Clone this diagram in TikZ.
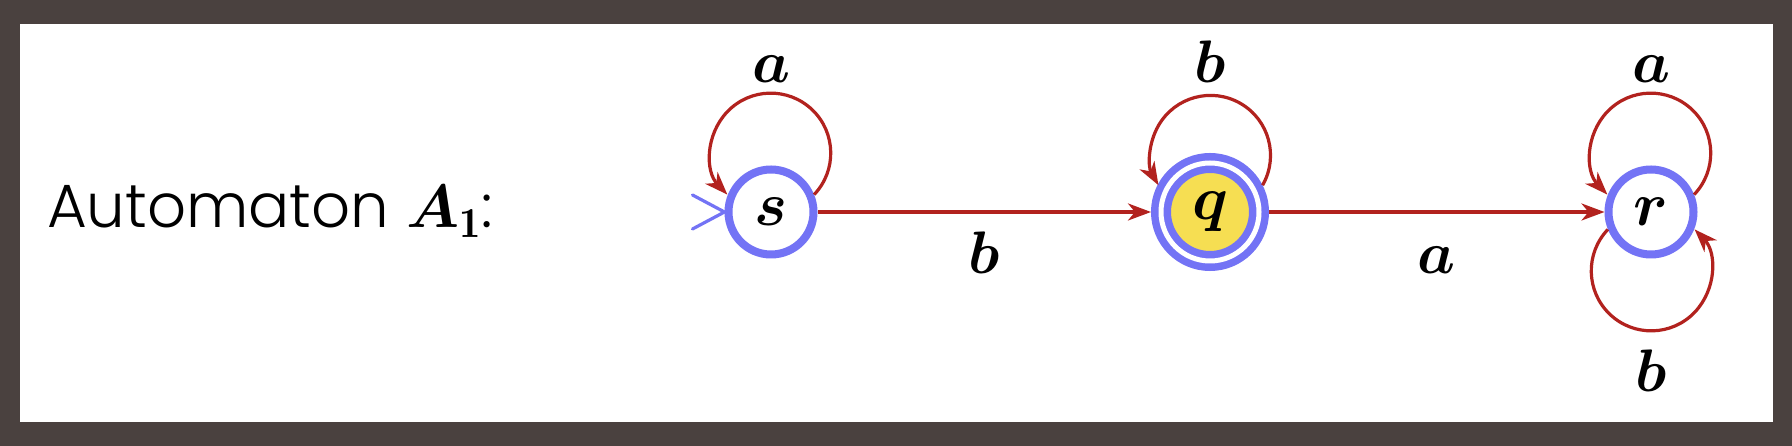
\RequirePackage{fix-cm}
\documentclass[tikz,border=0pt]{standalone}
\usepackage{amsmath}
\usepackage{fontspec}
\newfontfamily\gothic{Poppins}[UprightFont={* Light}]
\usetikzlibrary{arrows.meta,calc}
\definecolor{frame}{RGB}{74,65,63}
\definecolor{stateblue}{RGB}{115,115,245}
\definecolor{edgered}{RGB}{178,34,30}
\definecolor{acceptyellow}{RGB}{246,222,82}
\tikzset{
  state/.style={circle, draw=stateblue, line width=8pt, minimum size=85pt, inner sep=0pt,
    font=\fontsize{62}{68}\selectfont},
  accepting/.style={circle, draw=stateblue, line width=7.5pt, double=white, double distance=5pt,
    fill=acceptyellow, minimum size=98pt, inner sep=0pt, outer sep=10pt,
    font=\fontsize{62}{68}\selectfont},
  edge/.style={draw=edgered, line width=3.2pt, -{Stealth[length=23pt,width=17pt,inset=7pt]}},
  lbl/.style={inner sep=0pt, font=\fontsize{60}{66}\selectfont},
  entry/.style={draw=stateblue, line width=3.2pt, line cap=round}
}
\begin{document}
\begin{tikzpicture}[x=1pt,y=1pt]
  % frame
  \fill[frame] (0,0) rectangle (1792,446);
  \fill[white] (20,24) rectangle (1773,422);
  \useasboundingbox (0,0) rectangle (1792,446);

  % title
  \node[anchor=base west, inner sep=0pt, font=\gothic\fontsize{61}{68}\selectfont] (title)
    at (47,218) {Automaton $\boldsymbol{A}_{\mathbf{1}}$:};

  % states
  \node[state] (s) at (771,234) {$\boldsymbol{s}$};
  \node[accepting] (q) at (1210,234) {$\boldsymbol{q}$};
  \node[state] (r) at (1651,234) {$\boldsymbol{r}$};

  % initial marker
  \coordinate (e1) at ($(s.west)+(-32,17)$);
  \coordinate (e2) at ($(s.west)+(-32,-17)$);
  \draw[entry] (e1) -- (s.west) -- (e2);

  % transitions
  \draw[edge] (s) -- node[lbl, midway, below=18pt] {$\boldsymbol{b}$} (q);
  \draw[edge] (q) -- node[lbl, midway, below=18pt] {$\vphantom{\boldsymbol{b}}\boldsymbol{a}$} (r);

  % loops
  \draw[edge] (s.22) arc[start angle=-43.7, end angle=223.7, radius=60];
  \draw[edge] (q.27.6) arc[start angle=-29.8, end angle=209.8, radius=60];
  \draw[edge] (r.22) arc[start angle=-43.7, end angle=223.7, radius=60];
  \draw[edge] (r.202) arc[start angle=136.3, end angle=403.7, radius=60];

  % loop labels
  \node[lbl, anchor=base] (ls) at ($(s.center)+(0,129)$) {$\boldsymbol{a}$};
  \node[lbl, anchor=base] (lq) at ($(q.center)+(0,129)$) {$\boldsymbol{b}$};
  \node[lbl, anchor=base] (lr) at ($(r.center)+(0,129)$) {$\boldsymbol{a}$};
  \node[lbl, anchor=north] (lr2) at ($(r.center)+(0,-138)$) {$\boldsymbol{b}$};
\end{tikzpicture}
\end{document}
